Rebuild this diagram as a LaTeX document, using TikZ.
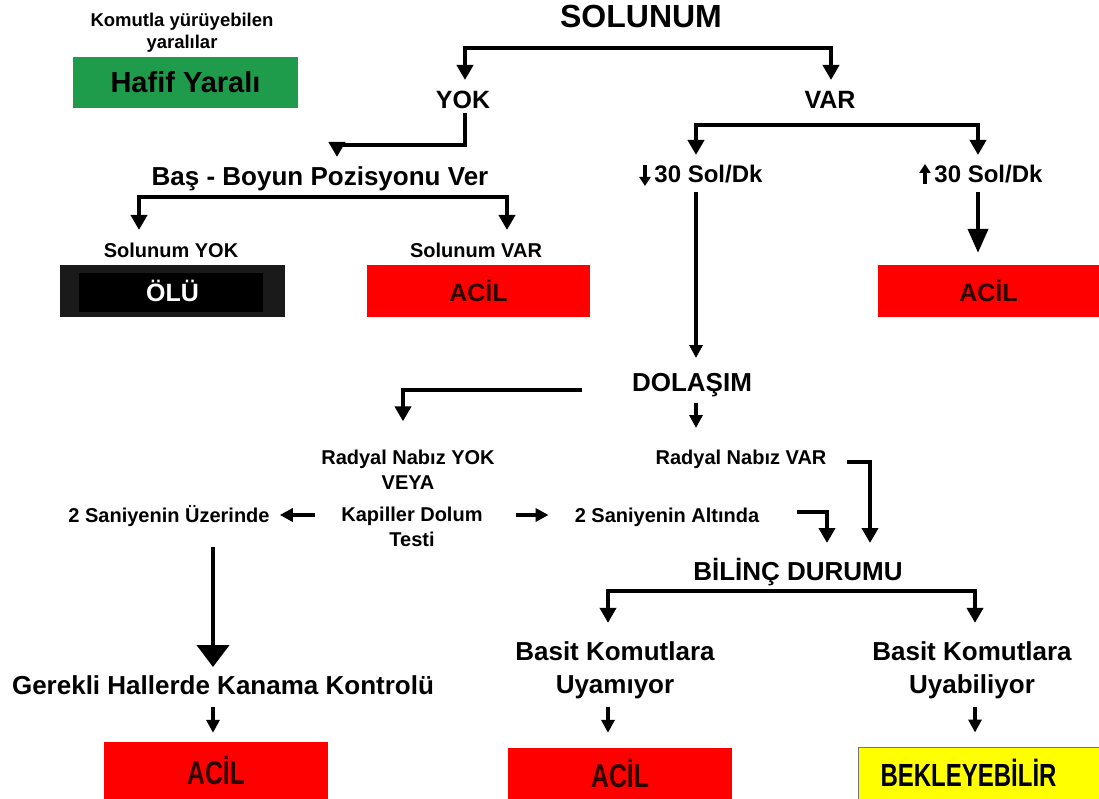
\documentclass[tikz,border=0pt]{standalone}
\usepackage{fontspec}
\setmainfont{Liberation Sans}
\newfontfamily\condfont{Liberation Sans}[FakeStretch=0.75]
\usetikzlibrary{arrows.meta}
\definecolor{hgreen}{RGB}{30,155,75}
\definecolor{ered}{RGB}{255,0,0}
\definecolor{eyellow}{RGB}{255,255,0}
\definecolor{acilt}{RGB}{45,0,0}
\definecolor{olugray}{RGB}{26,26,26}
\newcommand\myfs[2]{\fontsize{#1pt}{#2pt}\selectfont\bfseries}
\newcommand\dnarrow{\tikz[baseline=0pt]\draw[line width=3.6pt,-{Triangle[width=11pt,length=9pt]}] (0pt,18pt) -- (0pt,-3pt);}
\newcommand\uparr{\tikz[baseline=0pt]\draw[line width=3.6pt,-{Triangle[width=11pt,length=9pt]}] (0pt,-1pt) -- (0pt,19pt);}
\begin{document}
\begin{tikzpicture}[x=1pt,y=-1pt,
  txt/.style={inner sep=0pt, align=center, anchor=base},
  mtxt/.style={inner sep=0pt, align=center},
  tag/.style={inner sep=0pt, minimum width=#1, minimum height=52pt},
  redtag/.style={tag=#1, fill=ered, text=acilt},
  brk/.style={line width=4.8pt, line join=miter, {Triangle[width=16pt,length=15pt]}-{Triangle[width=16pt,length=15pt]}},
  el/.style={line width=4pt, line join=miter, -{Triangle[width=16pt,length=15pt]}},
  sa/.style={line width=3.5pt, -{Triangle[width=13pt,length=13pt]}},
  longarr/.style={line width=4pt, -{Triangle[width=20pt,length=24pt]}},
  bigarr/.style={line width=4.5pt, -{Triangle[width=32pt,length=22pt]}},
]
\useasboundingbox[fill=white] (0,0) rectangle (1099,799);

% ---------- texts ----------
\node[mtxt, font=\myfs{18.5}{22}] (kom) at (182,32.5) {Komutla yürüyebilen\\yaralılar};
\node[tag=225pt, fill=hgreen, minimum height=51pt, font=\myfs{29}{34}] (hafif) at (185.5,82.5) {Hafif Yaralı};

\node[txt, font=\myfs{32}{38}] (solunum) at (641,28) {SOLUNUM};
\node[txt, font=\myfs{25}{30}] (yok) at (463,109) {YOK};
\node[txt, font=\myfs{25}{30}] (var) at (830,109) {VAR};
\node[txt, font=\myfs{26}{30}] (bas) at (320,186) {Baş - Boyun Pozisyonu Ver};
\node[txt, font=\myfs{20}{24}] (solyok) at (171,258) {Solunum YOK};
\node[txt, font=\myfs{20}{24}] (solvar) at (476,258) {Solunum VAR};

\node[tag=225pt, fill=olugray, text=white, font=\myfs{25}{30},
  path picture={\fill[black] ([shift={(19,8)}]path picture bounding box.north west) rectangle ([shift={(-22,-5)}]path picture bounding box.south east);}]
  (olu) at (172.5,291) {ÖLÜ};
\node[redtag=223pt, font=\myfs{25}{30}] (acil1) at (478.5,291) {ACİL};

\node[txt, font=\myfs{24}{28}] (low30) at (701,183) {\dnarrow\hspace{4pt}30 Sol/Dk};
\node[txt, font=\myfs{24}{28}] (high30) at (981,183) {\uparr\hspace{4pt}30 Sol/Dk};
\node[redtag=221pt, font=\myfs{25}{30}] (acil2) at (988.5,291) {ACİL};

\node[txt, font=\myfs{26}{30}] (dolasim) at (692,391) {DOLAŞIM};
\node[mtxt, font=\myfs{20}{25}] (rnyok) at (408,469.3) {Radyal Nabız YOK\\VEYA};
\node[mtxt, font=\myfs{20}{25}] (kap) at (412,527.3) {Kapiller Dolum\\Testi};
\node[txt, font=\myfs{20}{24}] (rnvar) at (741,464) {Radyal Nabız VAR};
\node[txt, font=\myfs{20}{24}] (alt) at (667,522) {2 Saniyenin Altında};
\node[txt, font=\myfs{20}{24}] (ust) at (169,522) {2 Saniyenin Üzerinde};
\node[txt, font=\myfs{26}{30}] (gerekli) at (223,694) {Gerekli Hallerde Kanama Kontrolü};
\node[redtag=224pt, minimum height=57pt, font={\condfont\fontsize{33pt}{36pt}\selectfont\bfseries}] (acil3) at (216,770.5) {ACİL};

\node[txt, font=\myfs{26}{30}] (bilinc) at (798,580) {BİLİNÇ DURUMU};
\node[mtxt, font=\myfs{26}{33}] (uyamiyor) at (615,670.7) {Basit Komutlara\\Uyamıyor};
\node[mtxt, font=\myfs{26}{33}] (uyabiliyor) at (972,670.7) {Basit Komutlara\\Uyabiliyor};
\node[redtag=224pt, minimum height=51pt, font={\condfont\fontsize{33pt}{36pt}\selectfont\bfseries}] (acil4) at (620,773.5) {ACİL};
\node[tag=241pt, fill=eyellow, draw=black!55, line width=1pt, font={\condfont\fontsize{32pt}{36pt}\selectfont\bfseries}] (bekle) at (978.5,773) {BEKLEYEBİLİR\hspace*{20pt}};

% ---------- coordinates ----------
\coordinate (c1) at (465,48);
\coordinate (c2) at (831,48);
\coordinate (c3) at (465,145);
\coordinate (c4) at (337,145);
\coordinate (c5) at (139,197);
\coordinate (c6) at (507,197);
\coordinate (c7) at (696,125);
\coordinate (c8) at (978,125);
\coordinate (c9) at (403,390);
\coordinate (c11) at (870,462);
\coordinate (c12) at (827,512);
\coordinate (ky) at (0,515);
\coordinate (c14) at (213,0);
\coordinate (c15) at (608,591);
\coordinate (c16) at (975,591);

% ---------- connectors ----------
\draw[brk, shorten <=29pt, shorten >=29pt] (c1 |- yok.base) -- (c1) -- (c2) -- (c2 |- var.base);
\draw[el, shorten <=4pt, shorten >=29pt] (c3 |- yok.base) -- (c3) -- (c4) -- (c4 |- bas.base);
\draw[brk, shorten <=28pt, shorten >=28pt] (c5 |- solyok.base) -- (c5) -- (c6) -- (c6 |- solvar.base);
\draw[brk, shorten <=28pt, shorten >=28pt] (c7 |- low30.base) -- (c7) -- (c8) -- (c8 |- high30.base);
\draw[sa, shorten <=9pt, shorten >=33pt] (c7 |- low30.base) -- (c7 |- dolasim.base);
\draw[longarr, shorten <=9pt, shorten >=12pt] (c8 |- high30.base) -- (c8 |- acil2.north);
\draw[el, shorten <=50pt, shorten >=28pt] (c9 -| dolasim.west) -- (c9) -- (c9 |- rnyok.north);
\draw[sa, shorten <=12pt, shorten >=36pt] (c7 |- dolasim.base) -- (c7 |- rnvar.base);
\draw[el, shorten <=20pt, shorten >=37pt] (c11 -| rnvar.east) -- (c11) -- (c11 |- bilinc.base);
\draw[el, shorten <=38pt, shorten >=37pt] (c12 -| alt.east) -- (c12) -- (c12 |- bilinc.base);
\draw[sa, shorten <=33pt, shorten >=26pt] (ky -| kap.east) -- (ky -| alt.west);
\draw[sa, shorten <=26pt, shorten >=10pt] (ky -| kap.west) -- (ky -| ust.east);
\draw[bigarr, shorten <=25pt, shorten >=27pt] (c14 |- ust.base) -- (c14 |- gerekli.base);
\draw[sa, shorten <=13pt, shorten >=9pt] (c14 |- gerekli.base) -- (c14 |- acil3.north);
\draw[brk, shorten <=19pt, shorten >=19pt] (c15 |- uyamiyor.north) -- (c15) -- (c16) -- (c16 |- uyabiliyor.north);
\draw[sa, shorten <=7pt, shorten >=15pt] (c15 |- uyamiyor.south) -- (c15 |- acil4.north);
\draw[sa, shorten <=7pt, shorten >=14pt] (c16 |- uyabiliyor.south) -- (c16 |- bekle.north);
\end{tikzpicture}
\end{document}
